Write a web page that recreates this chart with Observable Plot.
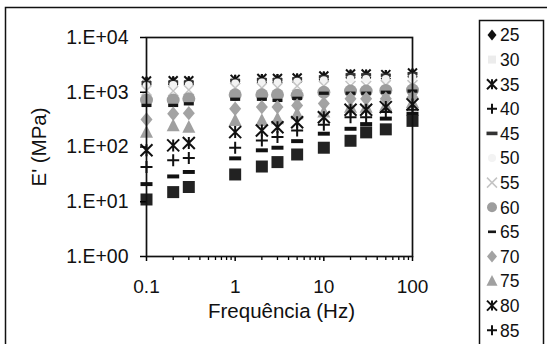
<!DOCTYPE html>
<html>
<head>
<meta charset="utf-8">
<script src="https://cdn.jsdelivr.net/npm/d3@7"></script>
<script src="https://cdn.jsdelivr.net/npm/@observablehq/plot@0.6"></script>
<style>
  html, body { margin: 0; padding: 0; background: #fff; overflow: hidden; width: 547px; height: 344px; }
  svg { overflow: hidden; }
</style>
</head>
<body>
<div id="chart"></div>
<script>
// ---- data ----
const freq = [0.1, 0.2, 0.3, 1, 2, 3, 5, 10, 20, 30, 50, 100];
const seriesNames = ["25","30","35","40","45","50","55","60","65","70","75","80","85","90","95"];
const e25 = [1600, 1620, 1620, 1720, 1780, 1780, 1820, 1980, 2150, 2150, 2100, 2250];
const e30 = [1550, 1560, 1560, 1680, 1740, 1740, 1780, 1930, 2100, 2100, 2060, 2200];
const e35 = [1600, 1620, 1620, 1720, 1780, 1780, 1820, 1980, 2150, 2150, 2100, 2250];
const e40 = [1560, 1580, 1580, 1700, 1760, 1760, 1800, 1950, 2120, 2120, 2080, 2220];
const e45 = [1500, 1520, 1520, 1640, 1700, 1700, 1750, 1900, 2080, 2080, 2040, 2180];
const e50 = [1300, 1350, 1350, 1450, 1500, 1500, 1550, 1650, 1750, 1750, 1750, 1850];
const e55 = [1080, 1050, 1100, 1200, 1200, 1200, 1300, 1300, 1300, 1300, 1350, 1350];
const e60 = [720, 720, 760, 900, 900, 900, 880, 1000, 1050, 1050, 1080, 1100];
const e65 = [575, 575, 615, 745, 745, 710, 775, 960, 960, 960, 1000, 1050];
const e70 = [317, 405, 415, 500, 535, 535, 575, 620, 760, 760, 760, 800];
const e75 = [187, 245, 230, 305, 305, 330, 405, 435, 535, 535, 575, 650];
const e80 = [87, 107, 118, 187, 200, 230, 283, 350, 480, 480, 535, 600];
const e85 = [43, 57, 63, 97, 132, 152, 200, 255, 350, 350, 435, 480];
const e90 = [21, 29, 35, 62, 87, 97, 128, 175, 215, 262, 330, 405];
const e95 = [11, 15, 18.6, 31.5, 44, 53, 73, 97, 130, 185, 210, 300];
const seriesValues = [e25,e30,e35,e40,e45,e50,e55,e60,e65,e70,e75,e80,e85,e90,e95];
// legend entries visible in the (cropped) reference
const legendNames = ["25","30","35","40","45","50","55","60","65","70","75","80","85"];

const yTicks = [1, 10, 100, 1000, 10000];
const yTickLabels = ["1.E+00", "1.E+01", "1.E+02", "1.E+03", "1.E+04"];
const xTicks = [0.1, 1, 10, 100];
const xTickLabels = ["0.1", "1", "10", "100"];
const xMinor = [0.2,0.3,0.4,0.5,0.6,0.7,0.8,0.9,2,3,4,5,6,7,8,9,20,30,40,50,60,70,80,90];
const xTitle = "Frequência (Hz)";
const yTitle = "E' (MPa)";

// ---- marker shapes (Excel-like) ----
const R = s => Math.sqrt(s / Math.PI);
const shapes = {
  diamond: {draw(c, s) { const r = R(s); c.moveTo(0, -r * 1.2); c.lineTo(r, 0); c.lineTo(0, r * 1.2); c.lineTo(-r, 0); c.closePath(); }},
  square: {draw(c, s) { const r = R(s); c.rect(-r, -r, 2 * r, 2 * r); }},
  triangle: {draw(c, s) { const r = R(s); c.moveTo(0, -r * 1.1); c.lineTo(r, r * 0.85); c.lineTo(-r, r * 0.85); c.closePath(); }},
  circle: {draw(c, s) { const r = R(s); c.moveTo(r, 0); c.arc(0, 0, r, 0, 2 * Math.PI); }},
  dash: {draw(c, s) { const r = R(s); c.rect(-r, -r * 0.33, 2 * r, r * 0.66); }},
  asterisk: {draw(c, s) { const r = R(s); c.moveTo(-r, -r); c.lineTo(r, r); c.moveTo(r, -r); c.lineTo(-r, r); c.moveTo(0, -r); c.lineTo(0, r); }},
  plus: {draw(c, s) { const r = R(s); c.moveTo(-r, 0); c.lineTo(r, 0); c.moveTo(0, -r); c.lineTo(0, r); }},
  times: {draw(c, s) { const r = R(s); c.moveTo(-r, -r); c.lineTo(r, r); c.moveTo(r, -r); c.lineTo(-r, r); }}
};

// style per series (index-aligned with seriesNames)
const styles = [
  {shape: "diamond", fill: "#111", r: 4},
  {shape: "square", fill: "#ececec", r: 4},
  {shape: "asterisk", stroke: "#111", r: 4.5, sw: 2},
  {shape: "plus", stroke: "#111", r: 4.5, sw: 2},
  {shape: "dash", fill: "#333", r: 5},
  {shape: "circle", fill: "#f3f3f3", r: 4},
  {shape: "times", stroke: "#c4c4c4", r: 5, sw: 1.5},
  {shape: "circle", fill: "#9d9d9d", r: 6.5},
  {shape: "dash", fill: "#161616", r: 5},
  {shape: "diamond", fill: "#a3a3a3", r: 6},
  {shape: "triangle", fill: "#a0a0a0", r: 6.5},
  {shape: "asterisk", stroke: "#111", r: 6, sw: 2},
  {shape: "plus", stroke: "#111", r: 6, sw: 2},
  {shape: "dash", fill: "#111", r: 6},
  {shape: "square", fill: "#222", r: 6}
];
// legend marker half-sizes
const legendR = [4.5, 4, 5, 5, 5.5, 4, 5, 5, 4, 5, 5.5, 5, 5];

const rows = [];
seriesNames.forEach((name, k) => freq.forEach((f, i) => rows.push({series: name, k, f, v: seriesValues[k][i]})));

const font = "'Liberation Sans', Arial, Helvetica, sans-serif";

const dotMarks = seriesNames.map((name, k) => {
  const st = styles[k];
  return Plot.dot(rows.filter(d => d.k === k), {
    x: "f", y: "v",
    symbol: shapes[st.shape],
    r: st.r,
    fill: st.fill || "none",
    stroke: st.stroke || "none",
    strokeWidth: st.sw || 0
  });
});

const chart = Plot.plot({
  width: 547, height: 344,
  marginLeft: 146, marginRight: 135, marginTop: 37, marginBottom: 88,
  style: {fontFamily: font, background: "white", overflow: "hidden"},
  x: {type: "log", domain: [0.1, 100]},
  y: {type: "log", domain: [1, 10000]},
  marks: [
    ...dotMarks,
    Plot.axisX({ticks: xMinor, tickSize: 4, tickFormat: () => "", strokeWidth: 1.3, label: null}),
    Plot.axisX({ticks: xTicks, tickSize: 5, tickPadding: 18, tickFormat: d => xTickLabels[xTicks.indexOf(d)], fontSize: 19, fill: "#111", strokeWidth: 1.5, label: null}),
    Plot.axisY({ticks: yTicks, tickSize: 6, tickPadding: 12, tickFormat: d => yTickLabels[yTicks.indexOf(d)], fontSize: 19.5, fill: "#111", strokeWidth: 1.5, label: null}),
    Plot.frame({stroke: "#111", strokeWidth: 1.7}),
    Plot.text([xTitle], {text: d => d, frameAnchor: "bottom", lineAnchor: "middle", textAnchor: "middle", dy: 55, dx: 2, fontSize: 20.5, fill: "#111"}),
    Plot.text([yTitle], {text: d => d, frameAnchor: "left", lineAnchor: "middle", textAnchor: "middle", dx: -107, rotate: -90, fontSize: 20.5, fill: "#111"})
  ]
});

document.getElementById("chart").appendChild(chart);

// ---- outer chart border and legend (legend box continues past the bottom edge) ----
const svg = d3.select(chart);
svg.append("rect").attr("x", 5.5).attr("y", 7.5).attr("width", 600).attr("height", 400)
  .attr("fill", "none").attr("stroke", "#111").attr("stroke-width", 1.5);
svg.append("rect").attr("x", 479.5).attr("y", 20.5).attr("width", 64).attr("height", 420)
  .attr("fill", "white").attr("stroke", "#111").attr("stroke-width", 1.5);

const leg = svg.append("g").attr("text-anchor", "start");
legendNames.forEach((name, j) => {
  const k = seriesNames.indexOf(name);
  const st = styles[k];
  const y = 35 + k * 24.6;
  const size = Math.PI * Math.pow(legendR[j], 2);
  leg.append("path")
    .attr("transform", `translate(492,${y})`)
    .attr("d", d3.symbol(shapes[st.shape], size)())
    .attr("fill", st.fill || "none")
    .attr("stroke", st.stroke || "none")
    .attr("stroke-width", st.sw || 0);
  leg.append("text")
    .attr("x", 500).attr("y", y).attr("dy", "0.36em")
    .attr("text-anchor", "start")
    .attr("font-family", font).attr("font-size", 17.5).attr("fill", "#111")
    .text(name);
});
</script>
</body>
</html>
